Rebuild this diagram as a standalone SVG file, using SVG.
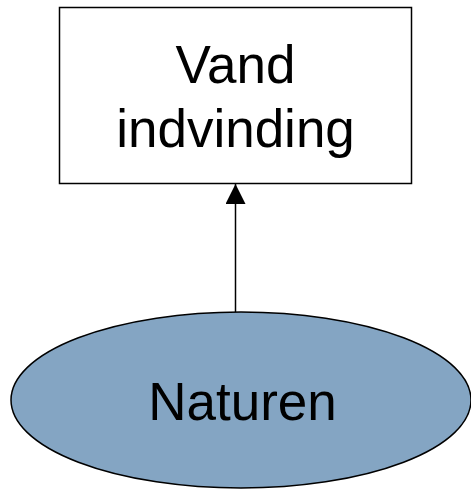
<svg xmlns="http://www.w3.org/2000/svg" width="471" height="489" viewBox="0 0 471 489">
<style>
.lbl{font-family:"Liberation Sans",Arial,sans-serif;font-size:53px;fill:#000;text-anchor:middle}
.shape{stroke:#000;stroke-width:1.5}
</style>
<defs>
<marker id="arr" markerWidth="20" markerHeight="20" refX="20" refY="10" orient="auto" markerUnits="userSpaceOnUse">
<path d="M0,0 L20,10 L0,20 Z" fill="#000"/>
</marker>
</defs>
<rect width="471" height="489" fill="#fff"/>
<g id="connectors">
<line x1="235.5" y1="312" x2="235.5" y2="184" stroke="#000" stroke-width="1.5" marker-end="url(#arr)"/>
</g>
<g id="vand">
<rect class="shape" x="59.5" y="7.5" width="352" height="176" fill="#fff"/>
<text class="lbl" x="235.5" y="83">Vand</text>
<text class="lbl" x="235.5" y="147">indvinding</text>
</g>
<g id="naturen">
<ellipse class="shape" cx="241" cy="400" rx="230" ry="88" fill="#84A5C3"/>
<text class="lbl" x="242.5" y="420">Naturen</text>
</g>
</svg>
